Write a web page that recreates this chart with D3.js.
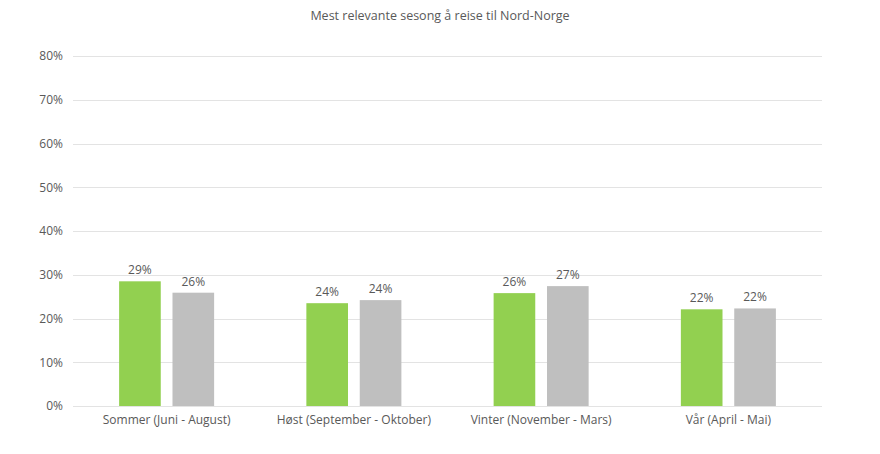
<!DOCTYPE html>
<html lang="no">
<head>
  <meta charset="UTF-8" />
  <title>Mest relevante sesong å reise til Nord-Norge</title>
  <script src="https://cdnjs.cloudflare.com/ajax/libs/d3/7.8.4/d3.min.js"></script>
  <style>
    body {
      margin: 0;
      background: #fff;
      font-family: "Open Sans", sans-serif;
    }
    .grid line {
      stroke: #e3e3e3;
      stroke-width: 1px;
    }
    text {
      fill: #595959;
    }
  </style>
</head>
<body>
  <svg width="880" height="454"></svg>
  <script>
    const categories = [
      "Sommer (Juni - August)",
      "Høst (September - Oktober)",
      "Vinter (November - Mars)",
      "Vår (April - Mai)"
    ];
    const seriesNames = ["A", "B"];
    const seriesA = [28.5, 23.5, 25.8, 22.1];
    const seriesB = [25.9, 24.2, 27.4, 22.3];
    const yTicks = [0, 10, 20, 30, 40, 50, 60, 70, 80];
    const colors = ["#92d050", "#bfbfbf"];

    const margin = { top: 56, right: 58, bottom: 48, left: 73 };
    const width = 880 - margin.left - margin.right;
    const height = 454 - margin.top - margin.bottom;

    const svg = d3.select("svg");

    svg.append("text")
      .attr("x", 440)
      .attr("y", 20)
      .attr("text-anchor", "middle")
      .style("font-size", "12.5px")
      .text("Mest relevante sesong å reise til Nord-Norge");

    const g = svg.append("g")
      .attr("transform", `translate(${margin.left},${margin.top})`);

    const x0 = d3.scaleBand()
      .domain(categories)
      .range([0, width]);

    const x1 = d3.scaleBand()
      .domain(seriesNames)
      .range([0, x0.bandwidth()])
      .paddingInner(0.22)
      .paddingOuter(0.864);

    const y = d3.scaleLinear()
      .domain([0, 80])
      .range([height, 0]);

    // gridlines
    g.append("g")
      .attr("class", "grid")
      .selectAll("line")
      .data(yTicks)
      .enter()
      .append("line")
      .attr("x1", 0)
      .attr("x2", width)
      .attr("y1", d => Math.round(y(d)) + 0.5)
      .attr("y2", d => Math.round(y(d)) + 0.5);

    // y axis labels
    const yAxis = d3.axisLeft(y)
      .tickValues(yTicks)
      .tickFormat(d => d + "%")
      .tickSize(0)
      .tickPadding(10);
    const ya = g.append("g").call(yAxis);
    ya.select(".domain").remove();
    ya.selectAll("text")
      .style("font-size", "12px")
      .style("font-family", "Open Sans, sans-serif")
      .attr("fill", "#595959");

    // x axis labels
    const xAxis = d3.axisBottom(x0).tickSize(0).tickPadding(9);
    const xa = g.append("g")
      .attr("transform", `translate(0,${height})`)
      .call(xAxis);
    xa.select(".domain").remove();
    xa.selectAll("text")
      .style("font-size", "12px")
      .style("font-family", "Open Sans, sans-serif")
      .attr("fill", "#595959");

    const rows = categories.map((c, i) => ({
      cat: c,
      vals: [
        { s: seriesNames[0], v: seriesA[i], c: colors[0] },
        { s: seriesNames[1], v: seriesB[i], c: colors[1] }
      ]
    }));

    const groups = g.selectAll(".grp")
      .data(rows)
      .enter()
      .append("g")
      .attr("class", "grp")
      .attr("transform", d => `translate(${x0(d.cat)},0)`);

    groups.selectAll("rect")
      .data(d => d.vals)
      .enter()
      .append("rect")
      .attr("x", d => x1(d.s))
      .attr("width", x1.bandwidth())
      .attr("y", d => y(d.v))
      .attr("height", d => height - y(d.v))
      .attr("fill", d => d.c);

    groups.selectAll(".lbl")
      .data(d => d.vals)
      .enter()
      .append("text")
      .attr("class", "lbl")
      .attr("x", d => x1(d.s) + x1.bandwidth() / 2)
      .attr("y", d => y(d.v) - 7)
      .attr("text-anchor", "middle")
      .style("font-size", "12px")
      .text(d => Math.round(d.v) + "%");
  </script>
</body>
</html>
